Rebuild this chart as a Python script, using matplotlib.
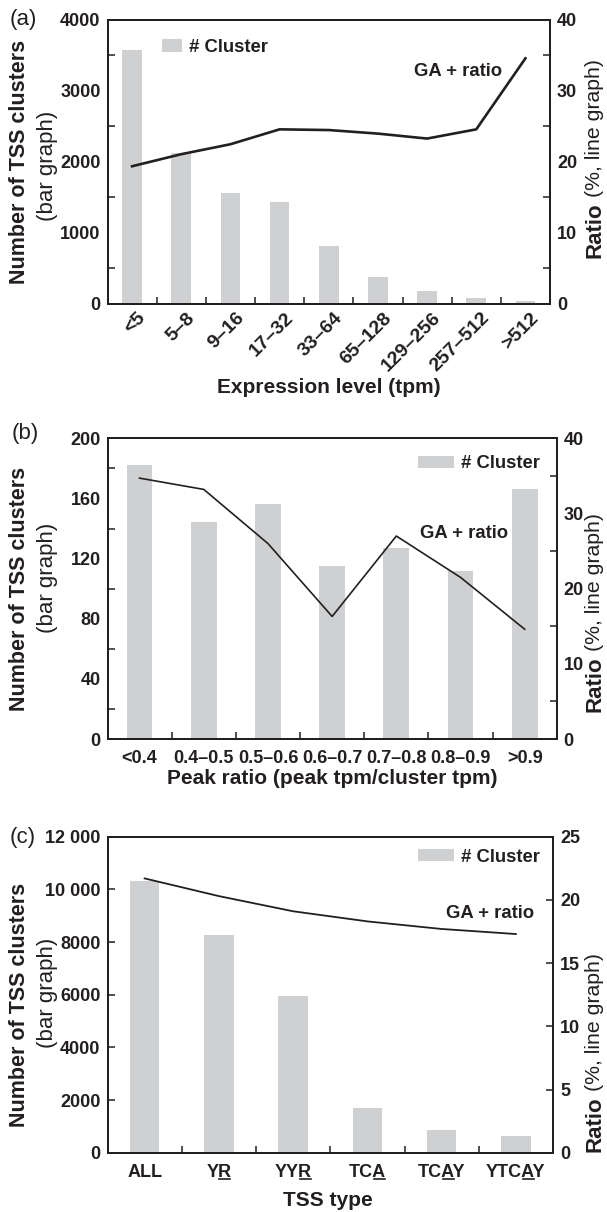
import matplotlib
matplotlib.use("Agg")
import matplotlib.pyplot as plt
import matplotlib.transforms as mtransforms
from matplotlib.lines import Line2D
from matplotlib.patches import Patch
from matplotlib.ticker import FixedLocator
import numpy as np

plt.rcParams["font.family"] = ["Liberation Sans", "DejaVu Sans"]
plt.rcParams["font.weight"] = "bold"

INK = "#231f20"
BAR = "#cfd0d2"
W, H = 607, 1212

# (a) expression level
expr_levels = ["<5", "5–8", "9–16", "17–32", "33–64", "65–128", "129–256", "257–512", ">512"]
expr_clusters = [3580, 2130, 1570, 1430, 810, 385, 190, 90, 47]
expr_ratio = [19.4, 21.1, 22.5, 24.6, 24.5, 24.0, 23.3, 24.6, 34.6]

# (b) peak ratio
peak_bins = ["<0.4", "0.4–0.5", "0.5–0.6", "0.6–0.7", "0.7–0.8", "0.8–0.9", ">0.9"]
peak_clusters = [182, 144, 156, 115, 127, 112, 166]
peak_ratio = [34.7, 33.2, 26.0, 16.3, 27.0, 21.5, 14.6]

# (c) TSS type; index of the underlined base in each label
tss_types = ["ALL", "YR", "YYR", "TCA", "TCAY", "YTCAY"]
tss_underline = [None, 1, 2, 2, 2, 3]
tss_clusters = [10300, 8270, 5950, 1700, 860, 630]
tss_ratio = [21.7, 20.3, 19.1, 18.3, 17.7, 17.3]


def fx(px):
    return px / W


def fy(py):
    return 1 - py / H


fig = plt.figure(figsize=(W / 100, H / 100), dpi=100)


def panel(box, cats, counts, ratio, left_max, left_ticks, left_labels, right_max,
          right_step, line_w, minor_in, rot):
    l, t, r, b = box
    ax = fig.add_axes([fx(l), fy(b), (r - l) / W, (b - t) / H])
    x = np.arange(len(cats))
    ax.bar(x, counts, width=0.4, color=BAR, zorder=2)
    ax.set_xlim(-0.5, len(cats) - 0.5)
    ax.set_ylim(0, left_max)
    ax.set_yticks(left_ticks, left_labels)
    ax.set_xticks(x, cats)
    ax.xaxis.set_minor_locator(FixedLocator(np.arange(0.5, len(cats) - 1, 1)))

    ax2 = ax.twinx()
    ax2.plot(x, ratio, color=INK, lw=line_w, solid_joinstyle="round", zorder=3)
    ax2.set_ylim(0, right_max)
    ax2.set_yticks(np.arange(0, right_max + 0.1, right_step))

    for a in (ax, ax2):
        for s in a.spines.values():
            s.set_linewidth(1.4)
            s.set_color(INK)
    if minor_in:
        ax.yaxis.set_minor_locator(FixedLocator(np.array(left_ticks[:-1]) + left_ticks[1] / 2))
        ax2.yaxis.set_minor_locator(FixedLocator(np.arange(right_step / 2, right_max, right_step)))
        for a in (ax, ax2):
            a.tick_params(axis="y", which="major", length=0, pad=5, labelsize=13, labelcolor=INK)
            a.tick_params(axis="y", which="minor", direction="in", length=5, width=1.1, color=INK)
    else:
        for a in (ax, ax2):
            a.tick_params(axis="y", which="major", direction="in", length=5, width=1.1,
                          color=INK, pad=5, labelsize=13, labelcolor=INK)
    ax.tick_params(axis="x", which="minor", direction="in", length=5, width=1.1, color=INK)
    if rot:
        ax.tick_params(axis="x", which="major", length=0, pad=4, labelsize=14, labelcolor=INK)
        off = mtransforms.ScaledTranslation(5 / 100, 0, fig.dpi_scale_trans)
        for lab in ax.get_xticklabels():
            lab.set_rotation(45)
            lab.set_ha("right")
            lab.set_va("top")
            lab.set_rotation_mode("anchor")
            lab.set_transform(lab.get_transform() + off)
    else:
        ax.tick_params(axis="x", which="major", length=0, pad=8, labelsize=13, labelcolor=INK)
    return ax, ax2


ratio_labels = []


def labels(letter, letter_xy, xlabel, xlabel_xy, ycen, ycen_reg, ratio_bot):
    fig.text(fx(letter_xy[0]), fy(letter_xy[1]), letter, fontsize=16, fontweight="normal",
             color=INK, ha="center", va="center")
    fig.text(fx(xlabel_xy[0]), fy(xlabel_xy[1]), xlabel, fontsize=15, color=INK,
             ha="center", va="center")
    fig.text(fx(20), fy(ycen), "Number of TSS clusters", fontsize=15.5, color=INK,
             rotation=90, ha="center", va="center")
    fig.text(fx(47), fy(ycen_reg), "(bar graph)", fontsize=16, fontweight="normal", color=INK,
             rotation=90, ha="center", va="center")
    t = fig.text(fx(595), fy(ratio_bot), "Ratio", fontsize=16, color=INK,
                 rotation=90, ha="center", va="bottom")
    ratio_labels.append(t)


def legend(patch_left, cy, hl, hh, pad):
    fig.legend(handles=[Patch(facecolor=BAR, edgecolor="none")], labels=["# Cluster"],
               loc="center left", bbox_to_anchor=(fx(patch_left), fy(cy)),
               bbox_transform=fig.transFigure, frameon=False, fontsize=13.3,
               borderpad=0, borderaxespad=0, handlelength=hl, handleheight=hh,
               handletextpad=pad, labelcolor=INK)


# panel (a)
panel((107.5, 20, 550, 304), expr_levels, expr_clusters, expr_ratio, 4000,
      [0, 1000, 2000, 3000, 4000], ["0", "1000", "2000", "3000", "4000"], 40, 10, 1.9, True, True)
labels("(a)", (23.5, 20), "Expression level (tpm)", (329, 387), 162, 166, 258)
legend(162, 47, 1.1, 0.7, 0.35)
fig.text(fx(414), fy(72), "GA + ratio", fontsize=13.3, color=INK, ha="left", va="center")

# panel (b)
panel((107.5, 438.3, 556.8, 739), peak_bins, peak_clusters, peak_ratio, 200,
      [0, 40, 80, 120, 160, 200], ["0", "40", "80", "120", "160", "200"], 40, 10, 1.2, True, False)
labels("(b)", (25, 433), "Peak ratio (peak tpm/cluster tpm)", (332, 778), 589, 578, 712)
legend(418, 464, 1.95, 0.55, 0.38)
fig.text(fx(420), fy(533), "GA + ratio", fontsize=13.3, color=INK, ha="left", va="center")

# panel (c)
ax_c, _ = panel((107.5, 836.7, 553, 1152.7), tss_types, tss_clusters, tss_ratio, 12000,
                [0, 2000, 4000, 6000, 8000, 10000, 12000],
                ["0", "2000", "4000", "6000", "8000", "10 000", "12 000"], 25, 5, 1.3, False, False)
labels("(c)", (22.5, 838), "TSS type", (328, 1200), 1005, 993, 1151.7)
legend(418, 857, 1.95, 0.55, 0.38)
fig.text(fx(446), fy(913), "GA + ratio", fontsize=13.3, color=INK, ha="left", va="center")

# second part of right label, placed just above "Ratio"; underlines in panel (c)
fig.canvas.draw()
renderer = fig.canvas.get_renderer()
to_fig = fig.transFigure.inverted()
for t in ratio_labels:
    bb = t.get_window_extent(renderer)
    x0, y0 = to_fig.transform((bb.x0 + bb.width / 2, bb.y1 + 5))
    fig.text(x0, y0, "(%, line graph)", fontsize=15.3, fontweight="normal", color=INK,
             rotation=90, ha="center", va="bottom")


def text_width(s, size):
    tmp = fig.text(0, 0, s, fontsize=size, fontweight="bold")
    w = tmp.get_window_extent(renderer).width if s else 0.0
    tmp.remove()
    return w


for lab, idx in zip(ax_c.get_xticklabels(), tss_underline):
    if idx is None:
        continue
    s = lab.get_text()
    size = lab.get_fontsize()
    bb = lab.get_window_extent(renderer)
    w0 = text_width(s[:idx], size)
    w1 = text_width(s[:idx + 1], size)
    yb = bb.y0 + 1.5
    p0 = to_fig.transform((bb.x0 + w0 + 1, yb))
    p1 = to_fig.transform((bb.x0 + w1 - 1, yb))
    fig.add_artist(Line2D([p0[0], p1[0]], [p0[1], p1[1]], transform=fig.transFigure,
                          color=INK, lw=1.2))

fig.savefig("out.png", dpi=100, facecolor="white")
